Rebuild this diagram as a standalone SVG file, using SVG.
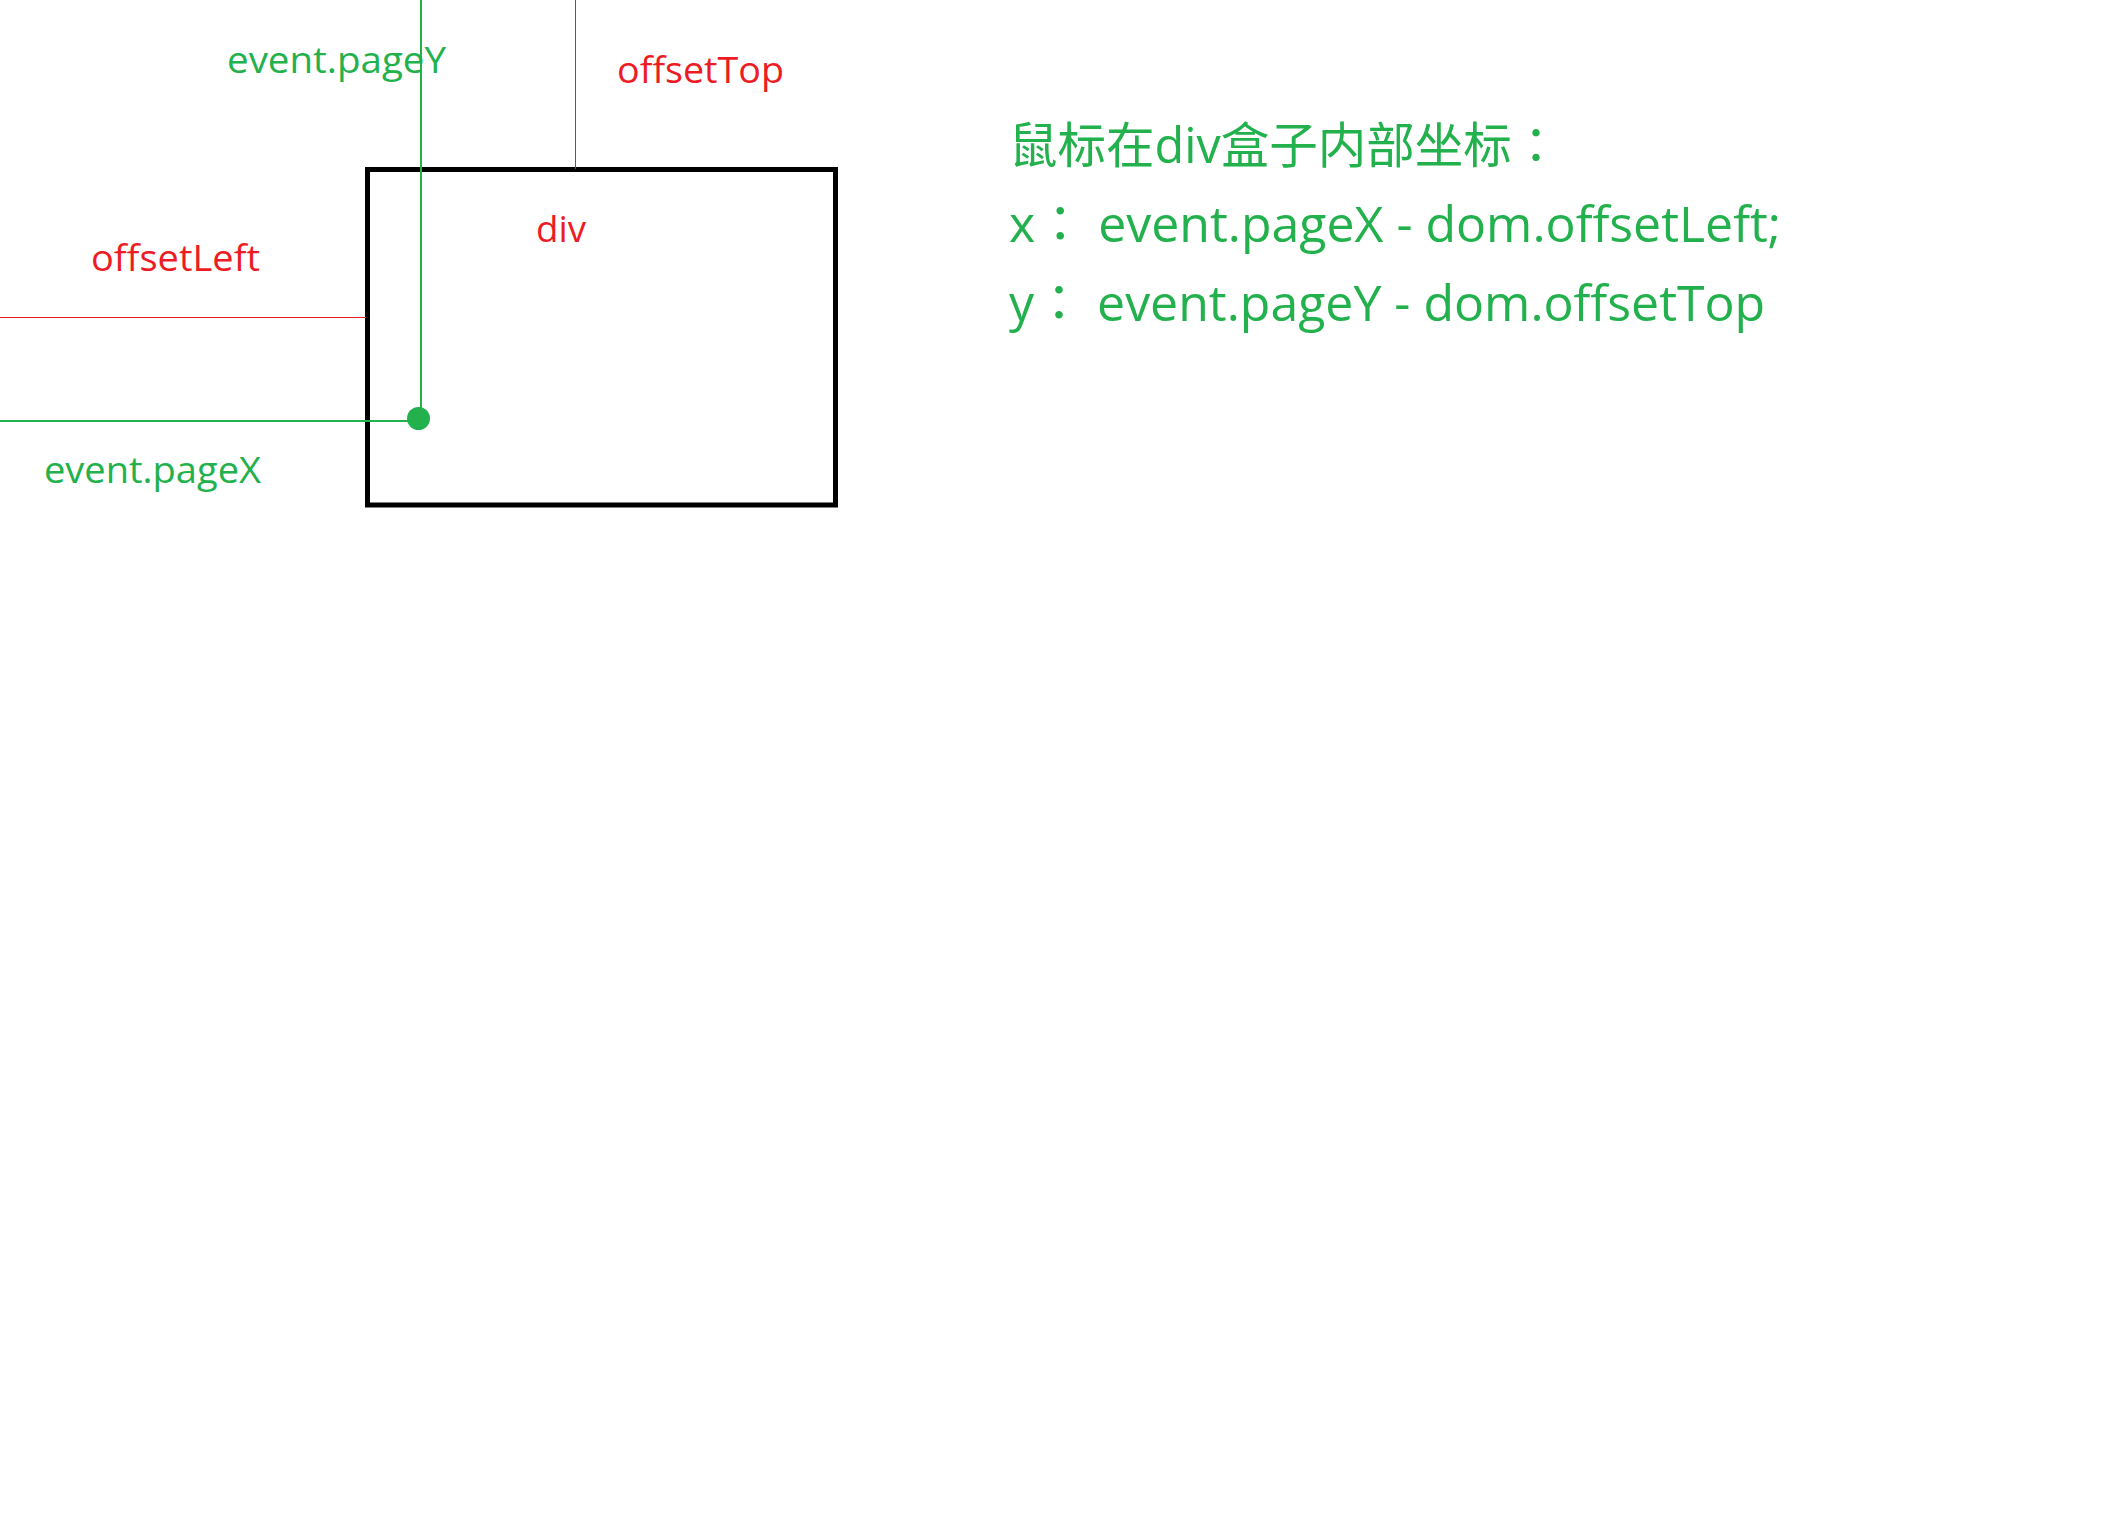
<svg xmlns="http://www.w3.org/2000/svg" width="2124" height="1536" viewBox="0 0 2124 1536">
<style>
  .lbl { font-family: "Open Sans", "Noto Sans CJK SC", sans-serif; font-size: 37px; }
  .big { font-family: "Open Sans", "Noto Sans CJK SC", sans-serif; font-size: 50px; fill: #22B14C; }
  .cc { font-family: "Noto Sans CJK JP", "Noto Sans CJK TC", sans-serif; }
  .green { fill: #22B14C; }
  .red { fill: #ED1C24; }
  .gline { stroke: #22B14C; stroke-width: 2; fill: none; }
  .rline { stroke: #ED1C24; stroke-width: 1; fill: none; }
</style>
<rect width="2124" height="1536" fill="#ffffff"/>
<g id="div-box">
  <rect x="367.5" y="169.5" width="468" height="335.5" fill="none" stroke="#000000" stroke-width="5"/>
  <text class="lbl red" x="536" y="242" textLength="50" lengthAdjust="spacingAndGlyphs">div</text>
</g>
<g id="connectors">
  <line class="rline" x1="575.5" y1="0" x2="575.5" y2="169"/>
  <line class="rline" x1="0" y1="317.5" x2="366" y2="317.5"/>
  <line class="gline" x1="421" y1="0" x2="421" y2="418"/>
  <line class="gline" x1="0" y1="421" x2="418" y2="421"/>
</g>
<g id="mouse-point">
  <circle cx="418.5" cy="418.5" r="11.5" fill="#22B14C"/>
</g>
<g id="label-pageY">
  <text class="lbl green" x="227" y="73" textLength="219" lengthAdjust="spacingAndGlyphs">event.pageY</text>
</g>
<g id="label-offsetTop">
  <text class="lbl red" x="617" y="83" textLength="167" lengthAdjust="spacingAndGlyphs">offsetTop</text>
</g>
<g id="label-offsetLeft">
  <text class="lbl red" x="91" y="271" textLength="169" lengthAdjust="spacingAndGlyphs">offsetLeft</text>
</g>
<g id="label-pageX">
  <text class="lbl green" x="44" y="483" textLength="217" lengthAdjust="spacingAndGlyphs">event.pageX</text>
</g>
<g id="formula">
  <text class="big" x="1009" y="163" style="font-size:48.5px">鼠标在div盒子内部坐标<tspan class="cc">：</tspan></text>
  <text class="big" x="1009" y="242">x<tspan class="cc">：</tspan> event.pageX - dom.offsetLeft;</text>
  <text class="big" x="1009" y="321">y<tspan class="cc">：</tspan> event.pageY - dom.offsetTop</text>
</g>
</svg>
